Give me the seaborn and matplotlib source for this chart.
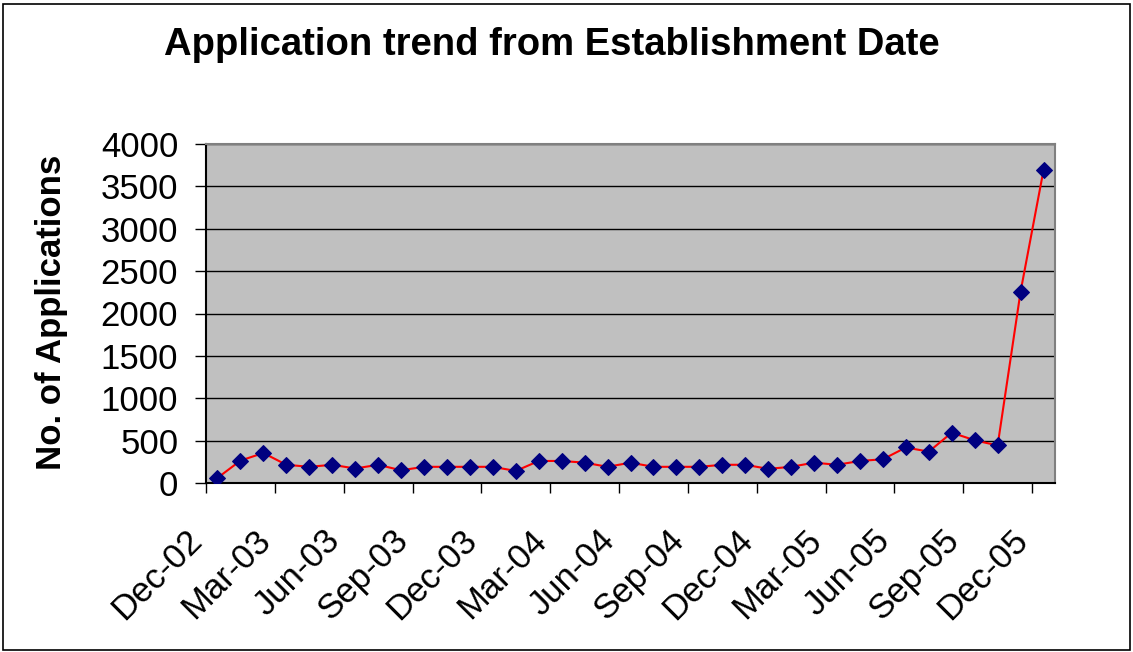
import matplotlib
matplotlib.use("Agg")
import matplotlib.pyplot as plt
import matplotlib.transforms as mtransforms
import seaborn as sns
import numpy as np
import pandas as pd
from matplotlib.patches import Rectangle

months = ["Dec-02", "Jan-03", "Feb-03", "Mar-03", "Apr-03", "May-03", "Jun-03", "Jul-03",
          "Aug-03", "Sep-03", "Oct-03", "Nov-03", "Dec-03", "Jan-04", "Feb-04", "Mar-04",
          "Apr-04", "May-04", "Jun-04", "Jul-04", "Aug-04", "Sep-04", "Oct-04", "Nov-04",
          "Dec-04", "Jan-05", "Feb-05", "Mar-05", "Apr-05", "May-05", "Jun-05", "Jul-05",
          "Aug-05", "Sep-05", "Oct-05", "Nov-05", "Dec-05"]
applications = [60, 264, 354, 215, 191, 215, 171, 215, 150, 191, 191, 191, 191, 142, 260, 260,
                240, 191, 240, 191, 191, 191, 215, 215, 167, 191, 240, 215, 260, 280, 419, 370,
                594, 504, 443, 2258, 3692]
tick_labels = ["Dec-02", "Mar-03", "Jun-03", "Sep-03", "Dec-03", "Mar-04", "Jun-04",
               "Sep-04", "Dec-04", "Mar-05", "Jun-05", "Sep-05", "Dec-05"]
y_ticks = [0, 500, 1000, 1500, 2000, 2500, 3000, 3500, 4000]

sns.set_theme(style="white")
plt.rcParams['font.family'] = ['Liberation Sans', 'DejaVu Sans']
plt.rcParams['text.color'] = 'black'
plt.rcParams['xtick.color'] = 'black'
plt.rcParams['ytick.color'] = 'black'
plt.rcParams['xtick.labelcolor'] = 'black'
plt.rcParams['ytick.labelcolor'] = 'black'

df = pd.DataFrame({"month": months, "apps": applications})
df["pos"] = np.arange(len(df)) + 0.5

fig = plt.figure(figsize=(11.33, 6.52), dpi=100)
ax = fig.add_axes([206/1133, 1-483/652, (1055-206)/1133, (483-144)/652])
ax.set_facecolor("#C0C0C0")

sns.lineplot(data=df, x="pos", y="apps", ax=ax, color="red", linewidth=1.5,
             marker="D", markersize=8, markerfacecolor="#000080",
             markeredgecolor="#000080", zorder=3)

ax.set_xlim(0, len(months))
ax.set_ylim(0, 4000)
ax.set_yticks(y_ticks)
ax.set_yticklabels([str(v) for v in y_ticks], fontsize=25)
ax.yaxis.grid(True, color="black", linewidth=1)
ax.xaxis.grid(False)
ax.set_axisbelow(True)

tick_pos = [months.index(t) for t in tick_labels]
ax.set_xticks(tick_pos)
ax.set_xticklabels(tick_labels, fontsize=25, rotation=45, ha="right",
                   rotation_mode="anchor")
ax.tick_params(axis="x", bottom=True, direction="out", length=7, width=1,
               color="black", pad=12)
ax.tick_params(axis="y", left=True, direction="out", length=8, width=1,
               color="black", pad=12)
offset = mtransforms.ScaledTranslation(-15/72, -10/72, fig.dpi_scale_trans)
for lab in ax.get_xticklabels():
    lab.set_transform(lab.get_transform() + offset)
ax.set_xlabel("")
ax.set_ylabel("")
for s in ax.spines.values():
    s.set_color("#808080")
    s.set_linewidth(1.5)
ax.spines["bottom"].set_color("black")
ax.spines["left"].set_color("black")

fig.text(552/1133, 1-45/652, "Application trend from Establishment Date",
         fontsize=27.5, fontweight="bold", ha="center", va="center")
fig.text(52/1133, 1-312/652, "No. of Applications", fontsize=25, fontweight="bold",
         rotation=90, ha="center", va="center")

fig.patches.append(Rectangle((3/1133, 1-650/652), 1127/1133, 646/652,
                             transform=fig.transFigure, fill=False,
                             edgecolor="black", linewidth=1.2))

fig.savefig("out.png", dpi=100)
